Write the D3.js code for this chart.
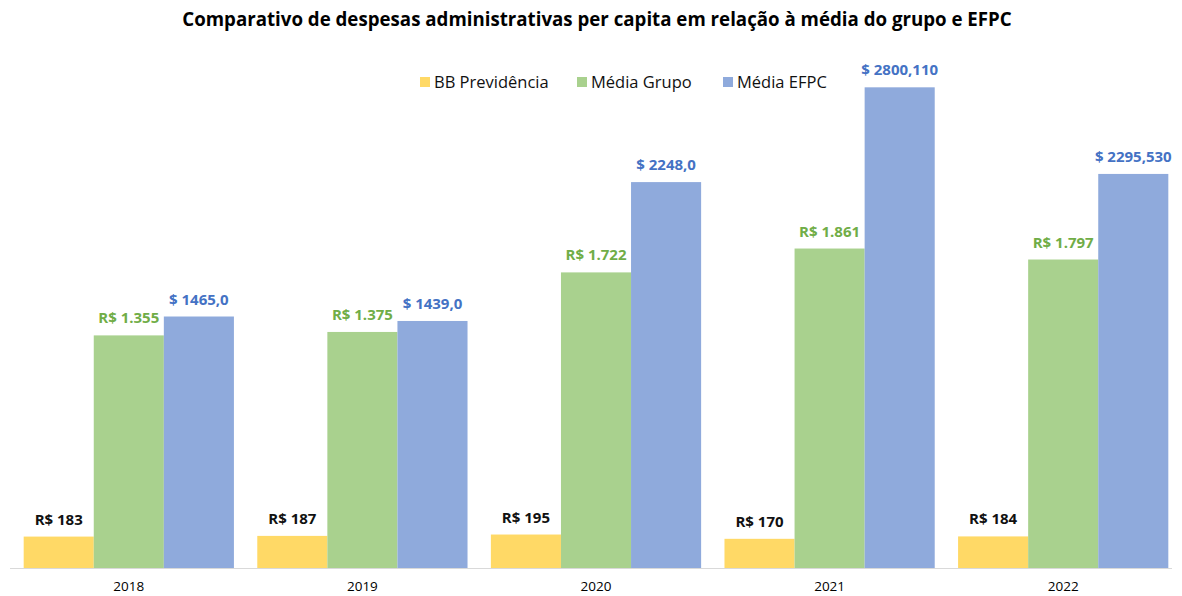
<!DOCTYPE html>
<html>
<head>
<meta charset="utf-8">
<script src="https://cdn.jsdelivr.net/npm/d3@7"></script>
<style>
  body { margin: 0; background: #fff; }
  svg { display: block; font-family: "Open Sans", "Noto Sans", sans-serif; }
</style>
</head>
<body>
<div id="chart"></div>
<script>
const years = ["2018", "2019", "2020", "2021", "2022"];
const seriesNames = ["BB Previdência", "Média Grupo", "Média EFPC"];
const bbPrev = [183, 187, 195, 170, 184];
const mediaGrupo = [1355, 1375, 1722, 1861, 1797];
const mediaEfpc = [1465, 1439, 2248, 2800.11, 2295.53];
const bbLabels = ["R$ 183", "R$ 187", "R$ 195", "R$ 170", "R$ 184"];
const grupoLabels = ["R$ 1.355", "R$ 1.375", "R$ 1.722", "R$ 1.861", "R$ 1.797"];
const efpcLabels = ["$ 1465,0", "$ 1439,0", "$ 2248,0", "$ 2800,110", "$ 2295,530"];

const colors = ["#FFD966", "#A9D18E", "#8FAADC"];
const labelColors = ["#111", "#70AD47", "#4472C4"];

function drawChart() {
    const width = 1182, height = 596;
    const svg = d3.select("#chart").append("svg")
        .attr("width", width)
        .attr("height", height);

    const x0 = d3.scaleBand()
        .domain(years)
        .range([12, 1180])
        .paddingInner(0.1)
        .paddingOuter(0.05);
    const x1 = d3.scaleBand()
        .domain(d3.range(3))
        .range([0, x0.bandwidth()]);
    const y = d3.scaleLinear()
        .domain([0, 3000])
        .range([568, 53]);

    const series = [bbPrev, mediaGrupo, mediaEfpc];
    const labels = [bbLabels, grupoLabels, efpcLabels];

    svg.append("text")
        .attr("x", 597)
        .attr("y", 26)
        .attr("text-anchor", "middle")
        .style("font-size", "18.7px")
        .style("font-weight", "bold")
        .style("fill", "#000")
        .text("Comparativo de despesas administrativas per capita em relação à média do grupo e EFPC");

    // axis line
    svg.append("line")
        .attr("x1", 10).attr("x2", 1172)
        .attr("y1", y(0) + 0.5).attr("y2", y(0) + 0.5)
        .style("stroke", "#d9d9d9")
        .style("stroke-width", 1);

    const groups = svg.selectAll("g.year")
        .data(years)
        .join("g")
        .attr("class", "year")
        .attr("transform", d => `translate(${x0(d)},0)`);

    groups.each(function (yr, i) {
        const g = d3.select(this);
        series.forEach((s, k) => {
            g.append("rect")
                .attr("x", x1(k))
                .attr("y", y(s[i]))
                .attr("width", x1.bandwidth())
                .attr("height", y(0) - y(s[i]))
                .style("fill", colors[k]);
            g.append("text")
                .attr("x", x1(k) + x1.bandwidth() / 2)
                .attr("y", y(s[i]) - 12)
                .attr("text-anchor", "middle")
                .style("font-size", "15px")
                .style("font-weight", "bold")
                .style("fill", labelColors[k])
                .text(labels[k][i]);
        });
    });

    const xAxis = svg.append("g")
        .attr("transform", `translate(0,${y(0)})`)
        .call(d3.axisBottom(x0).tickSize(0).tickPadding(13));
    xAxis.select(".domain").remove();
    xAxis.selectAll("text")
        .style("font-size", "13.5px")
        .style("font-family", "\"Open Sans\", sans-serif")
        .style("fill", "#000");

    // legend
    const legendX = [420, 577, 723];
    const legend = svg.append("g");
    seriesNames.forEach((name, k) => {
        legend.append("rect")
            .attr("x", legendX[k])
            .attr("y", 77)
            .attr("width", 10)
            .attr("height", 10)
            .style("fill", colors[k]);
        legend.append("text")
            .attr("x", legendX[k] + 14)
            .attr("y", 88)
            .style("font-size", "16.5px")
            .style("fill", "#111")
            .text(name);
    });
}

drawChart();
</script>
</body>
</html>
